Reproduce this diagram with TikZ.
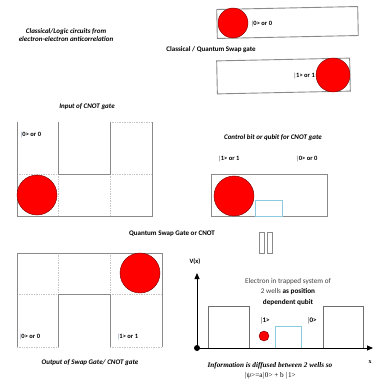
\documentclass[tikz,border=0pt]{standalone}
\usepackage{fontspec}
\setmainfont{Carlito}
\newfontfamily\timesf{Liberation Serif}
\usetikzlibrary{arrows.meta}

\definecolor{wallgray}{HTML}{8A8A8A}
\definecolor{gridgray}{HTML}{C4C4C4}
\definecolor{wellblue}{HTML}{8CCBDD}
\definecolor{ketblue}{HTML}{2E4E9A}

\tikzset{
  wall/.style={draw=wallgray, line width=0.9pt},
  grid/.style={draw=gridgray, densely dotted, line width=0.7pt},
  ball/.style={circle, fill=red, draw=red!45!black, line width=0.4pt, inner sep=0pt},
  captxt/.style={font=\fontsize{7}{8.5}\selectfont\bfseries\itshape, align=center, inner sep=0pt},
  lbl/.style={font=\fontsize{7}{8.5}\selectfont\bfseries, inner sep=0pt},
  ket/.style={font=\fontsize{6.5}{8}\selectfont\bfseries, inner sep=0pt},
  axis/.style={draw=black, line width=0.8pt, -{Triangle[length=6pt,width=5pt]}},
}

\begin{document}
\begin{tikzpicture}[x=1pt, y=-1pt]
\useasboundingbox (0,0) rectangle (373,380);

% ---- headings ----
\node[captxt] (title) at (66,35) {Classical/Logic circuits from\\electron-electron anticorrelation};
\node[lbl] (swaptitle) at (211,50) {Classical / Quantum Swap gate};
\node[captxt] (inputcap) at (87,107) {Input of CNOT gate};
\node[captxt] (controlcap) at (273,138) {Control bit or qubit for CNOT gate};
\node[lbl] (gatecap) at (172,234) {Quantum Swap Gate or CNOT};
\node[captxt] (outputcap) at (90,363) {Output of Swap Gate/ CNOT gate};

% ---- classical / quantum swap boxes ----
\node[wall, rectangle, rotate=1.2, minimum width=141pt, minimum height=29pt] (boxA) at (287.5,22.5) {};
\node[ball, minimum size=30pt] (ballA) at (233,23) {};
\node[ket, anchor=west] (ketA) at (251,24) {$|$0> or 0};

\node[wall, rectangle, rotate=1.2, minimum width=133pt, minimum height=33pt] (boxB) at (283.5,76) {};
\node[ball, minimum size=34pt] (ballB) at (333,75) {};
\node[ket, anchor=east] (ketB) at (315,76) {$|$1> or 1};

% ---- input of CNOT gate: three columns with a well in the middle ----
\draw[grid] (110,122) -- (152,122);
\draw[grid] (17,174) -- (58,174) (110,174) -- (152,174);
\draw[grid] (58,174) -- (58,216) (110,174) -- (110,216);
\draw[wall] (17,122) -- (17,216) -- (152,216) -- (152,122);
\draw[wall] (58,122) -- (58,174) -- (110,174) -- (110,122);
\node[ball, minimum size=40pt] (ballIn) at (37,195) {};
\node[ket, anchor=west] (ketIn) at (20,135) {\textcolor{ketblue}{$|$}0> or 0};

% ---- control bit ----
\node[ket] (ketC1) at (229,159) {$|$1> or 1};
\node[ket] (ketC0) at (307,159) {$|$0> or 0};
\draw[wall] (211,174) rectangle (327,216);
\node[draw=wellblue, line width=0.7pt, minimum width=27pt, minimum height=16pt, inner sep=0pt] (wellC) at (268.5,208) {};
\node[ball, minimum size=40pt] (ballC) at (234,196) {};

% ---- equals-like sign ----
\node[draw=wallgray, line width=0.6pt, minimum width=5pt, minimum height=21pt, inner sep=0pt] (barL) at (261.5,242.5) {};
\node[draw=wallgray, line width=0.6pt, minimum width=5pt, minimum height=21pt, inner sep=0pt] (barR) at (269.5,242.5) {};

% ---- output of swap gate ----
\draw[grid] (17,347) -- (58,347) (110,347) -- (162,347);
\draw[grid] (17,294) -- (58,294) (110,294) -- (162,294);
\draw[grid] (58,253) -- (58,294) (110,253) -- (110,294);
\draw[wall] (17,347) -- (17,253) -- (162,253) -- (162,347);
\draw[wall] (58,347) -- (58,294) -- (110,294) -- (110,347);
\node[ball, minimum size=40pt] (ballOut) at (140,273) {};
\node[ket, anchor=west] (ketOut0) at (19,337) {\textcolor{ketblue}{$|$}0> or 0};
\node[ket, anchor=west] (ketOut1) at (117,337) {\textcolor{ketblue}{$|$}1> or 1};

% ---- double well potential ----
\coordinate (origin) at (197,348);
\coordinate (vtop) at (197,273);
\coordinate (xend) at (373,348);
\draw[wall, draw=wallgray!80!black] (208,306) rectangle (249,348);
\draw[wall, draw=wallgray!80!black] (323,306) rectangle (363,348);
\draw[draw=wellblue, line width=0.7pt] (275,326) rectangle (301,348);
\draw[axis] (origin) -- (vtop);
\draw[axis] (origin) -- (xend);
\node[circle, fill=black, inner sep=0pt, minimum size=6pt] (dot) at (origin) {};
\node[lbl, font=\fontsize{6.5}{8}\selectfont\bfseries] (vlabel) at (195,262) {V(x)};
\node[font=\timesf\fontsize{6}{7}\selectfont\bfseries, inner sep=0pt] (xlabel) at (370,362) {x};
\node[ball, minimum size=10pt] (electron) at (264,336) {};
\node[ket, font=\fontsize{7}{8}\selectfont\bfseries] (ket1) at (265,321) {$|$1>};
\node[ket, font=\fontsize{7}{8}\selectfont\bfseries] (ket0) at (312,321) {$|$0>};
\node[align=center, inner sep=0pt, font=\fontsize{7.2}{10.5}\selectfont] (trapnote) at (288,292)
  {\textcolor{black!75}{Electron in trapped system of}\\
   \textcolor{black!75}{2 wells} \textbf{as position}\\
   \textbf{dependent qubit}};

\node[align=center, inner sep=0pt, font=\timesf\fontsize{7.2}{9.5}\selectfont] (infonote) at (270,371)
  {\textbf{\textit{Information is diffused between 2 wells so}}\\
   $|$ψ>=a$|$0> + b $|$1>};
\end{tikzpicture}
\end{document}
